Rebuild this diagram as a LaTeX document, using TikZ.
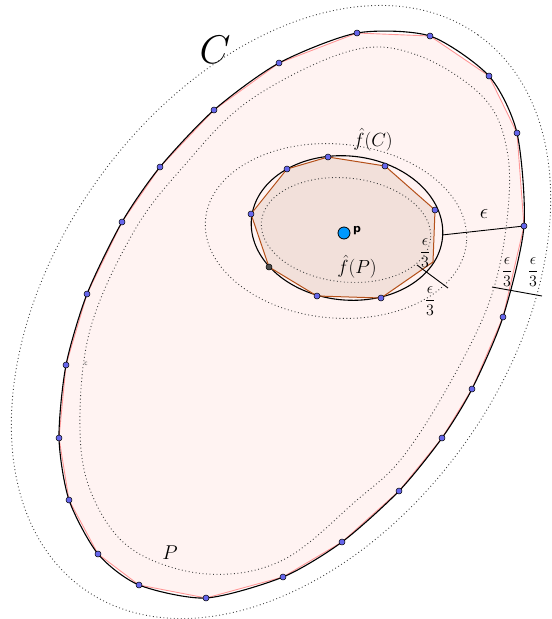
\RequirePackage{fix-cm}
\documentclass[tikz,border=0pt]{standalone}
\usepackage{fontspec}
\usepackage{amsmath}
\newfontfamily\geo{DejaVu Sans}
\definecolor{ptblue}{RGB}{102,102,235}
\definecolor{pfill}{RGB}{255,243,242}
\definecolor{pline}{RGB}{255,150,150}
\definecolor{fpfill}{RGB}{242,224,218}
\definecolor{fpline}{RGB}{180,80,25}
\definecolor{pblue}{RGB}{0,153,255}
\tikzset{
 dots/.style={draw=black!75, line width=0.9pt, dash pattern=on 0.9pt off 2.6pt},
 vpt/.style={circle, draw=black, line width=0.5pt, fill=ptblue, inner sep=0pt, minimum size=6pt},
 meas/.style={draw=black, line width=0.9pt},
 lab/.style={inner sep=0pt},
 curveC/.style={draw=black, line width=1.1pt},
}
\begin{document}
\begin{tikzpicture}[x=1pt,y=-1pt]
\useasboundingbox (0,0) rectangle (552,619);
% vertices of P on C
\coordinate (c1) at (357,33);
\coordinate (c2) at (430,36);
\coordinate (c3) at (489,76);
\coordinate (c4) at (517,133);
\coordinate (c5) at (524,226);
\coordinate (c6) at (503,317);
\coordinate (c7) at (472,389);
\coordinate (c8) at (442,438);
\coordinate (c9) at (399,491);
\coordinate (c10) at (342,542);
\coordinate (c11) at (283,577);
\coordinate (c12) at (206,598);
\coordinate (c13) at (139,585);
\coordinate (c14) at (98,554);
\coordinate (c15) at (69,500);
\coordinate (c16) at (59,438);
\coordinate (c17) at (66,365);
\coordinate (c18) at (87,294);
\coordinate (c19) at (122,222);
\coordinate (c20) at (160,167);
\coordinate (c21) at (214,110);
\coordinate (c22) at (279,63);
% vertices of f(P)
\coordinate (d1) at (328,157);
\coordinate (d2) at (385,166);
\coordinate (d3) at (435,210);
\coordinate (d4) at (433,262);
\coordinate (d5) at (381,298);
\coordinate (d6) at (317,296);
\coordinate (d7) at (269,267);
\coordinate (d8) at (251,214);
\coordinate (d9) at (287,169);
% fills
\fill[pfill] (c1)--(c2)--(c3)--(c4)--(c5)--(c6)--(c7)--(c8)--(c9)--(c10)--(c11)--(c12)--(c13)--(c14)--(c15)--(c16)--(c17)--(c18)--(c19)--(c20)--(c21)--(c22)--cycle;
\fill[fpfill] (d1)--(d2)--(d3)--(d4)--(d5)--(d6)--(d7)--(d8)--(d9)--cycle;
% dotted curves
\draw[dots, rotate around={54.6:(281,312)}] (281,312) ellipse [x radius=340, y radius=226];
\draw[dots] plot[smooth cycle, tension=0.6] coordinates {(350,51) (417,55) (483,97) (507,150) (507,220) (490,300) (450,383) (402,458) (357,500) (283,560) (207,574) (133,550) (93,497) (80,430) (90,330) (133,233) (183,167) (250,100)};
\draw[dots, rotate around={-5:(336,231)}] (336,231) ellipse [x radius=131, y radius=87];
\draw[dots, rotate around={-6:(346,230)}] (346,230) ellipse [x radius=85, y radius=52];
% polygon P stroke
\draw[pline, line width=0.9pt] (c1)--(c2)--(c3)--(c4)--(c5)--(c6)--(c7)--(c8)--(c9)--(c10)--(c11)--(c12)--(c13)--(c14)--(c15)--(c16)--(c17)--(c18)--(c19)--(c20)--(c21)--(c22)--cycle;
% curve C
\draw[curveC] plot[smooth cycle, tension=0.45] coordinates {(c1) (c2) (c3) (c4) (c5) (c6) (c7) (c8) (c9) (c10) (c11) (c12) (c13) (c14) (c15) (c16) (c17) (c18) (c19) (c20) (c21) (c22)};
% f(C)
\draw[curveC, rotate around={-6:(347,228)}] (347,228) ellipse [x radius=96, y radius=72];
% f(P)
\draw[fpline, line width=1pt] (d1)--(d2)--(d3)--(d4)--(d5)--(d6)--(d7)--(d8)--(d9)--cycle;
% measurement lines
\coordinate (e1) at (442,235);
\coordinate (g1) at (417,265);
\coordinate (g2) at (448,288);
\coordinate (h1) at (492,287);
\coordinate (h2) at (542,296);
\draw[meas] (e1) -- (c5);
\draw[meas] (g1) -- (g2);
\draw[meas] (h1) -- (h2);
% points
\foreach \i in {1,...,22} \node[vpt] (pc\i) at (c\i) {};
\foreach \i in {1,2,3,5,6,8,9} \node[vpt] (pd\i) at (d\i) {};
\node[vpt, fill=black!70] (pd7) at (d7) {};
\node[circle, draw=black, fill=pblue, minimum size=12pt, inner sep=0pt, line width=0.8pt] (p) at (344,233) {};
\node[anchor=west, font=\geo\bfseries\fontsize{11}{11}\selectfont, inner sep=0pt] (pl) at (353,231) {p};
% labels
\node[lab, font=\fontsize{40}{40}\selectfont] (lC) at (215,50) {$C$};
\node[lab, font=\fontsize{19}{19}\selectfont] (lfC) at (373,140) {$\hat{f}(C)$};
\node[lab, font=\fontsize{19}{19}\selectfont] (lfP) at (357,267) {$\hat{f}(P)$};
\node[lab, font=\fontsize{20}{20}\selectfont] (lP) at (170,553) {$P$};
\node[lab, font=\fontsize{21}{21}\selectfont] (le) at (484,214) {$\epsilon$};
\node[lab, font=\fontsize{16}{16}\selectfont] (le1) at (425,253) {$\dfrac{\epsilon}{3}$};
\node[lab, font=\fontsize{16}{16}\selectfont] (le2) at (430,301) {$\dfrac{\epsilon}{3}$};
\node[lab, font=\fontsize{16}{16}\selectfont] (le3) at (507,272) {$\dfrac{\epsilon}{3}$};
\node[lab, font=\fontsize{16}{16}\selectfont] (le4) at (533,272) {$\dfrac{\epsilon}{3}$};
\node[lab, font=\geo\fontsize{6}{6}\selectfont, text=black!70] (lc) at (86,364) {c};
\end{tikzpicture}
\end{document}
